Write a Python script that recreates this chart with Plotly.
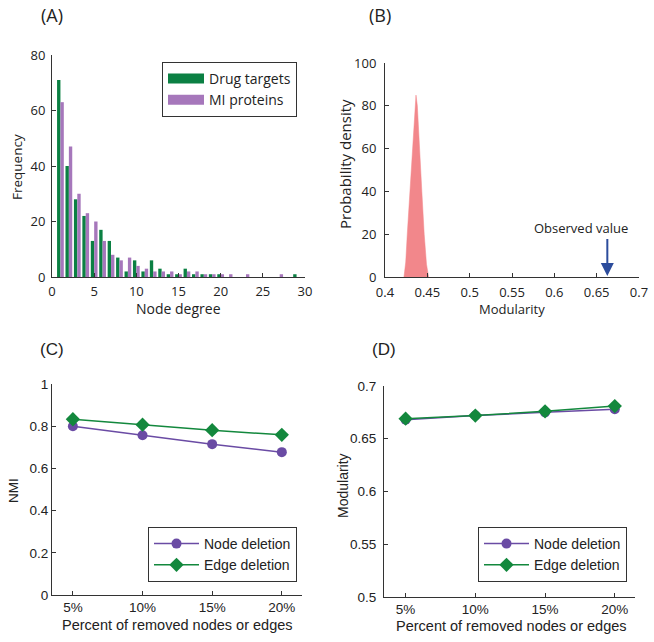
import plotly.graph_objects as go

# ---------------- data ----------------
degrees = list(range(1, 31))
drug_targets = [71, 40, 28, 22, 13, 17, 13, 7, 2, 6, 2, 6, 3, 1, 1, 3, 1, 1, 1, 1, 0, 0, 0, 0, 0, 0, 0, 0, 1, 0]
mi_proteins = [63, 47, 30, 23, 20, 13, 8, 6, 7, 4, 3, 2, 2, 2, 1, 2, 2, 1, 1, 1, 1, 0, 1, 0, 0, 0, 1, 0, 0, 0]

mod_x = [0.4224, 0.4245, 0.4263, 0.4294, 0.4325, 0.4350, 0.4366, 0.4382, 0.4404, 0.4435, 0.4463, 0.4490, 0.4515]
mod_density = [0, 7, 20, 40, 60, 80, 85, 80, 60, 40, 20, 6, 0]
observed_value = 0.6626

pct = [5, 10, 15, 20]
pct_labels = ["5%", "10%", "15%", "20%"]
nmi_node = [0.800, 0.757, 0.715, 0.677]
nmi_edge = [0.833, 0.807, 0.781, 0.759]
modq_node = [0.668, 0.672, 0.675, 0.678]
modq_edge = [0.669, 0.672, 0.676, 0.681]

# ---------------- style ----------------
FONT_AB = "Open Sans"
FONT_CD = "Liberation Sans"
W, H = 654, 642
GREEN_BAR = "#0b8043"
PURPLE_BAR = "#a677bb"
PURPLE_LINE = "#6a4ba4"
GREEN_LINE = "#13883d"
PINK = "#f2878b"
ARROW = "#2c4c9c"
AX = "#333333"
TXT = "#222222"


def px_x(p):
    return p / W


def px_y(p):
    return 1 - p / H


fig = go.Figure()

# (A) histogram
fig.add_trace(go.Bar(x=degrees, y=drug_targets, name="Drug targets", marker_color=GREEN_BAR,
                     marker_line_width=0, xaxis="x", yaxis="y", showlegend=False))
fig.add_trace(go.Bar(x=degrees, y=mi_proteins, name="MI proteins", marker_color=PURPLE_BAR,
                     marker_line_width=0, xaxis="x", yaxis="y", showlegend=False))
# legend swatches (wide rectangles as in the original)
fig.add_trace(go.Scatter(x=[None], y=[None], mode="lines", name="Drug targets",
                         line=dict(color=GREEN_BAR, width=10), xaxis="x", yaxis="y", legend="legend"))
fig.add_trace(go.Scatter(x=[None], y=[None], mode="lines", name="MI proteins",
                         line=dict(color=PURPLE_BAR, width=10), xaxis="x", yaxis="y", legend="legend"))

# (B) null distribution
fig.add_trace(go.Scatter(x=mod_x, y=mod_density, mode="lines", fill="tozeroy", fillcolor=PINK,
                         line=dict(width=0.5, color=PINK), xaxis="x2", yaxis="y2", showlegend=False))

# (C) NMI
fig.add_trace(go.Scatter(x=pct, y=nmi_node, name="Node deletion", mode="lines+markers",
                         line=dict(color=PURPLE_LINE, width=1.5),
                         marker=dict(symbol="circle", size=10, color=PURPLE_LINE),
                         xaxis="x3", yaxis="y3", legend="legend2"))
fig.add_trace(go.Scatter(x=pct, y=nmi_edge, name="Edge deletion", mode="lines+markers",
                         line=dict(color=GREEN_LINE, width=1.5),
                         marker=dict(symbol="diamond", size=11, color=GREEN_LINE),
                         xaxis="x3", yaxis="y3", legend="legend2"))

# (D) modularity
fig.add_trace(go.Scatter(x=pct, y=modq_node, name="Node deletion", mode="lines+markers",
                         line=dict(color=PURPLE_LINE, width=1.5),
                         marker=dict(symbol="circle", size=10, color=PURPLE_LINE),
                         xaxis="x4", yaxis="y4", legend="legend3"))
fig.add_trace(go.Scatter(x=pct, y=modq_edge, name="Edge deletion", mode="lines+markers",
                         line=dict(color=GREEN_LINE, width=1.5),
                         marker=dict(symbol="diamond", size=11, color=GREEN_LINE),
                         xaxis="x4", yaxis="y4", legend="legend3"))


def axis(font, size, **kw):
    d = dict(showline=True, linecolor=AX, linewidth=1, ticks="inside", ticklen=4,
             tickcolor=AX, showgrid=False, zeroline=False, mirror=False, automargin=False,
             tickfont=dict(family=font, size=size, color=TXT), fixedrange=True)
    d.update(kw)
    return d


fig.update_layout(
    template="none",
    width=W, height=H, margin=dict(l=0, r=0, t=0, b=0, pad=0),
    paper_bgcolor="white", plot_bgcolor="white",
    font=dict(family=FONT_AB, size=13, color=TXT),
    barmode="group", bargap=0.2, bargroupgap=0.0,
    xaxis=axis(FONT_AB, 13, domain=[px_x(52), px_x(305)], anchor="y", range=[0, 30],
               tickvals=[0, 5, 10, 15, 20, 25, 30], ticklabelstandoff=2),
    yaxis=axis(FONT_AB, 13, domain=[px_y(277), px_y(55)], anchor="x", range=[0, 80],
               tickvals=[0, 20, 40, 60, 80], ticklabelstandoff=3),
    xaxis2=axis(FONT_AB, 13, domain=[px_x(385), px_x(639)], anchor="y2", range=[0.4, 0.7],
                tickvals=[0.4, 0.45, 0.5, 0.55, 0.6, 0.65, 0.7],
                ticktext=["0.4", "0.45", "0.5", "0.55", "0.6", "0.65", "0.7"], ticklabelstandoff=3),
    yaxis2=axis(FONT_AB, 13, domain=[px_y(277), px_y(63)], anchor="x2", range=[0, 100],
                tickvals=[0, 20, 40, 60, 80, 100], ticklabelstandoff=5),
    xaxis3=axis(FONT_CD, 13.5, domain=[px_x(52), px_x(302)], anchor="y3", range=[3.5, 21.45],
                tickvals=pct, ticktext=pct_labels),
    yaxis3=axis(FONT_CD, 13.5, domain=[px_y(595), px_y(384)], anchor="x3", range=[0, 1],
                tickvals=[0, 0.2, 0.4, 0.6, 0.8, 1], ticktext=["0", "0.2", "0.4", "0.6", "0.8", "1"]),
    xaxis4=axis(FONT_CD, 13.5, domain=[px_x(384), px_x(635)], anchor="y4", range=[3.45, 21.45],
                tickvals=pct, ticktext=pct_labels),
    yaxis4=axis(FONT_CD, 13.5, domain=[px_y(597), px_y(386)], anchor="x4", range=[0.5, 0.7],
                tickvals=[0.5, 0.55, 0.6, 0.65, 0.7], ticktext=["0.5", "0.55", "0.6", "0.65", "0.7"],
                ticklabelstandoff=4),
    legend=dict(x=px_x(297), y=px_y(62), xanchor="right", yanchor="top",
                bordercolor=AX, borderwidth=1, bgcolor="white", itemwidth=36,
                font=dict(family=FONT_AB, size=14, color=TXT), tracegroupgap=0),
    legend2=dict(x=px_x(297), y=px_y(582), xanchor="right", yanchor="bottom",
                 bordercolor=AX, borderwidth=1, bgcolor="white", itemwidth=45,
                 font=dict(family=FONT_CD, size=14, color=TXT)),
    legend3=dict(x=px_x(627), y=px_y(582), xanchor="right", yanchor="bottom",
                 bordercolor=AX, borderwidth=1, bgcolor="white", itemwidth=45,
                 font=dict(family=FONT_CD, size=14, color=TXT)),
)

# panel labels
for lab, x, y, fnt, sz in [("(A)", 52, 15, FONT_AB, 18), ("(B)", 380, 15, FONT_AB, 18),
                           ("(C)", 52, 349, FONT_CD, 17), ("(D)", 384, 350, FONT_CD, 17)]:
    fig.add_annotation(text=lab, x=px_x(x), y=px_y(y), xref="paper", yref="paper",
                       showarrow=False, xanchor="center", yanchor="middle",
                       font=dict(family=fnt, size=sz, color=TXT))

# axis titles
titles = [
    ("Frequency", 17, 167, -90, FONT_AB, 13.5),
    ("Node degree", 178, 308, 0, FONT_AB, 14),
    ("Probability density", 345, 164, -90, FONT_AB, 15),
    ("Modularity", 512, 309, 0, FONT_AB, 13),
    ("NMI", 13, 491, -90, FONT_CD, 13.5),
    ("Percent of removed nodes or edges", 177, 625, 0, FONT_CD, 14.5),
    ("Modularity", 343, 486, -90, FONT_CD, 14),
    ("Percent of removed nodes or edges", 511, 626, 0, FONT_CD, 14.5),
]
for txt, x, y, ang, fnt, sz in titles:
    fig.add_annotation(text=txt, x=px_x(x), y=px_y(y), xref="paper", yref="paper",
                       showarrow=False, xanchor="center", yanchor="middle", textangle=ang,
                       font=dict(family=fnt, size=sz, color=TXT))

# observed value arrow
fig.add_annotation(x=observed_value, y=0.5, ax=observed_value, ay=18.5, xref="x2", yref="y2",
                   axref="x2", ayref="y2", text="", showarrow=True, arrowhead=2, arrowsize=1.3,
                   arrowwidth=2, arrowcolor=ARROW)
fig.add_annotation(x=0.632, y=22.7, xref="x2", yref="y2", text="Observed value", showarrow=False,
                   xanchor="center", yanchor="middle", font=dict(family=FONT_AB, size=13, color=TXT))

fig.write_html("out.html", config={"displayModeBar": False, "staticPlot": True},
               post_script="document.body.style.margin='0px';document.body.style.overflow='hidden';")
